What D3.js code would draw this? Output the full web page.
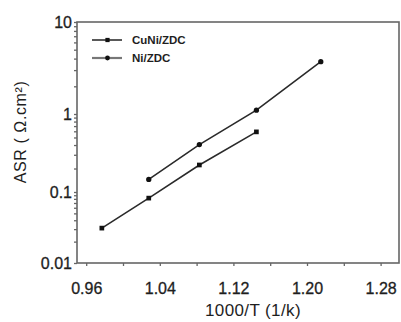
<!DOCTYPE html>
<html>
<head>
<meta charset="utf-8">
<script src="https://cdn.jsdelivr.net/npm/d3@7"></script>
<style>
  body { margin: 0; background: #fff; }
  text { font-family: "Liberation Sans", Arial, sans-serif; fill: #1e1e1e; }
</style>
</head>
<body>
<script>
// values
var seriesNames = ["CuNi/ZDC", "Ni/ZDC"];
var cuniX = [0.977, 1.028, 1.083, 1.145];
var cuniY = [0.031, 0.082, 0.222, 0.59];
var niX = [1.028, 1.083, 1.145, 1.215];
var niY = [0.145, 0.405, 1.10, 3.7];
var xTicks = [0.96, 1.04, 1.12, 1.20, 1.28];
var yTicks = [0.01, 0.1, 1, 10];

var svgWidth = 401;
var svgHeight = 322;

var margin = {
  top: 22,
  right: 2,
  bottom: 59,
  left: 77
};

var width = svgWidth - margin.left - margin.right;
var height = svgHeight - margin.top - margin.bottom;

var svg = d3.select("body")
  .append("svg")
  .attr("width", svgWidth)
  .attr("height", svgHeight);

var chartGroup = svg.append("g").attr("transform", `translate(${margin.left}, ${margin.top})`);

// x scale
var xLinearScale = d3.scaleLinear()
  .domain([0.95, 1.30])
  .range([0, width]);

// y scale: the decades in the scanned figure are not evenly spaced, so piecewise log
var yLogScale = d3.scaleLog()
  .domain([0.01, 0.1, 1, 10])
  .range([height, height - 71, height - 149, 0]);

// minor ticks
var xMinor = [];
for (var i = 0; i < xTicks.length; i++) {
  xMinor.push(xTicks[i] + 0.04);
}
var yMinor = [];
yTicks.slice(0, -1).forEach(function(t) {
  for (var k = 2; k < 10; k++) yMinor.push(t * k);
});

// minor axes
chartGroup.append("g")
  .attr("class", "minor")
  .attr("transform", `translate(0, ${height})`)
  .call(d3.axisBottom(xLinearScale).tickValues(xMinor.filter(d => d < 1.3)).tickSize(3).tickFormat(""));

chartGroup.append("g")
  .attr("class", "minor")
  .call(d3.axisLeft(yLogScale).tickValues(yMinor).tickSize(3).tickFormat(""));

// major axes
var xAxis = d3.axisBottom(xLinearScale)
  .tickValues(xTicks)
  .tickSize(3)
  .tickPadding(17)
  .tickFormat(d3.format(".2f"));

var yAxis = d3.axisLeft(yLogScale)
  .tickValues(yTicks)
  .tickSize(3)
  .tickPadding(2)
  .tickFormat(d3.format("~g"));

chartGroup.append("g")
  .attr("transform", `translate(0, ${height})`)
  .call(xAxis);

chartGroup.append("g").call(yAxis);

chartGroup.selectAll(".domain").remove();
chartGroup.selectAll(".tick line").attr("stroke", "#666").attr("stroke-width", 1.3);
chartGroup.selectAll(".tick text")
  .attr("font-size", "16px")
  .attr("fill", "#1e1e1e")
  .attr("stroke", "#1e1e1e")
  .attr("stroke-width", 0.3);

// frame
chartGroup.append("rect")
  .attr("x", 0)
  .attr("y", 0)
  .attr("width", width)
  .attr("height", height)
  .attr("fill", "none")
  .attr("stroke", "#666")
  .attr("stroke-width", 1.6);

// series
var series = [
  { name: seriesNames[0], pts: cuniX.map((x, i) => [x, cuniY[i]]), marker: "square" },
  { name: seriesNames[1], pts: niX.map((x, i) => [x, niY[i]]), marker: "circle" }
];

var line = d3.line()
  .x(d => xLinearScale(d[0]))
  .y(d => yLogScale(d[1]));

series.forEach(function(s) {
  chartGroup.append("path")
    .datum(s.pts)
    .attr("d", line)
    .attr("fill", "none")
    .attr("stroke", "#2a2a2a")
    .attr("stroke-width", 1.6);

  chartGroup.selectAll(null)
    .data(s.pts)
    .enter()
    .append("path")
    .attr("transform", d => `translate(${xLinearScale(d[0])}, ${yLogScale(d[1])})`)
    .attr("d", d3.symbol().type(s.marker == "square" ? d3.symbolSquare : d3.symbolCircle).size(22))
    .attr("fill", "#111");
});

// legend
var legend = svg.append("g").attr("transform", "translate(92, 40)");
series.forEach(function(s, i) {
  var g = legend.append("g").attr("transform", `translate(0, ${i * 18})`);
  g.append("line")
    .attr("x1", 0).attr("x2", 30)
    .attr("stroke", i == 0 ? "#222" : "#777")
    .attr("stroke-width", i == 0 ? 1.5 : 2.2);
  g.append("path")
    .attr("transform", "translate(15.5, 0)")
    .attr("d", d3.symbol().type(s.marker == "square" ? d3.symbolSquare : d3.symbolCircle).size(18))
    .attr("fill", "#111");
  g.append("text")
    .attr("x", 40)
    .attr("dy", "0.36em")
    .attr("font-size", "11.5px")
    .attr("font-weight", "bold")
    .attr("fill", "#2a2a2a")
    .text(s.name);
});

// axis titles
svg.append("text")
  .attr("x", 253)
  .attr("y", 316)
  .attr("text-anchor", "middle")
  .attr("font-size", "17px")
  .attr("letter-spacing", "0.4px")
  .text("1000/T (1/k)");

svg.append("text")
  .attr("transform", "rotate(-90)")
  .attr("x", -132)
  .attr("y", 26)
  .attr("text-anchor", "middle")
  .attr("font-size", "16px")
  .attr("letter-spacing", "0.6px")
  .text("ASR (  Ω.cm²)");
</script>
</body>
</html>
